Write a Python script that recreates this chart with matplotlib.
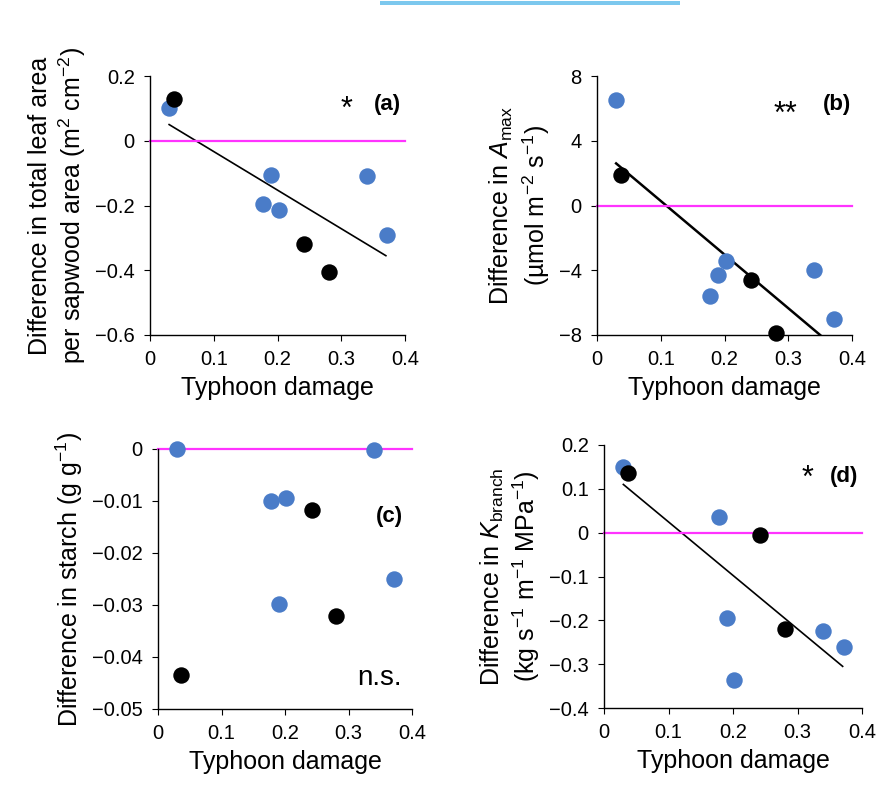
import matplotlib
matplotlib.use("Agg")
import matplotlib.pyplot as plt
from matplotlib.patches import Rectangle

plt.rcParams['font.family'] = ['Liberation Sans', 'DejaVu Sans']
plt.rcParams['mathtext.fontset'] = 'custom'
plt.rcParams['mathtext.rm'] = 'Liberation Sans'
plt.rcParams['mathtext.it'] = 'Liberation Sans:italic'
plt.rcParams['mathtext.bf'] = 'Liberation Sans:bold'

BLUE = '#4a7cc8'

# Panel (a)
a_blue_x = [0.03, 0.19, 0.178, 0.202, 0.34, 0.372]
a_blue_y = [0.10, -0.105, -0.195, -0.215, -0.11, -0.29]
a_blk_x = [0.037, 0.242, 0.28]
a_blk_y = [0.13, -0.32, -0.405]
a_fit_x = [0.03, 0.37]
a_fit_y = [0.05, -0.355]

# Panel (b)
b_blue_x = [0.03, 0.178, 0.19, 0.202, 0.34, 0.372]
b_blue_y = [6.5, -5.6, -4.3, -3.4, -4.0, -7.0]
b_blk_x = [0.037, 0.242, 0.28]
b_blk_y = [1.9, -4.6, -7.9]
b_fit_x = [0.03, 0.35]
b_fit_y = [2.6, -8.0]

# Panel (c)
c_blue_x = [0.03, 0.178, 0.202, 0.19, 0.34, 0.372]
c_blue_y = [0.0, -0.010, -0.0095, -0.0298, -0.0002, -0.025]
c_blk_x = [0.037, 0.242, 0.28]
c_blk_y = [-0.0435, -0.0117, -0.0322]

# Panel (d)
d_blue_x = [0.03, 0.178, 0.19, 0.202, 0.34, 0.372]
d_blue_y = [0.15, 0.035, -0.195, -0.335, -0.225, -0.26]
d_blk_x = [0.037, 0.242, 0.28]
d_blk_y = [0.135, -0.005, -0.22]
d_fit_x = [0.03, 0.37]
d_fit_y = [0.11, -0.305]

xticks = [0, 0.1, 0.2, 0.3, 0.4]
xticklabels = ['0', '0.1', '0.2', '0.3', '0.4']

W, H = 896, 790
fig = plt.figure(figsize=(W/100, H/100), dpi=100)

def mkax(l, r, t, b):
    return fig.add_axes([l/W, 1-b/H, (r-l)/W, (b-t)/H])

def style(ax, yticks, ylabels, ylim, ylabel):
    ax.set_xlim(0, 0.4)
    ax.set_ylim(*ylim)
    ax.set_xticks(xticks)
    ax.set_xticklabels(xticklabels)
    ax.set_yticks(yticks)
    ax.set_yticklabels(ylabels)
    for s in ['top', 'right']:
        ax.spines[s].set_visible(False)
    for s in ['left', 'bottom']:
        ax.spines[s].set_linewidth(1.0)
    ax.tick_params(labelsize=14.5, length=4, direction='out', pad=7)
    ax.set_xlabel('Typhoon damage', fontsize=18, labelpad=5)
    ax.set_ylabel(ylabel, fontsize=18, labelpad=5)
    ax.axhline(0, color='#ff33ff', lw=1.6, zorder=2.5, clip_on=False)

def pts(ax, bx, by, kx, ky):
    ax.scatter(bx, by, s=140, color=BLUE, zorder=3, clip_on=False, linewidths=0)
    ax.scatter(kx, ky, s=140, color='black', zorder=3, clip_on=False, linewidths=0)

ax = mkax(150, 405, 76, 335)
style(ax, [0.2, 0, -0.2, -0.4, -0.6], ['0.2', '0', '\u22120.2', '\u22120.4', '\u22120.6'], (-0.6, 0.2),
      'Difference in total leaf area\nper sapwood area (m$^{2}$ cm$^{-2}$)')
ax.plot(a_fit_x, a_fit_y, color='black', lw=1.2, zorder=2)
pts(ax, a_blue_x, a_blue_y, a_blk_x, a_blk_y)
ax.text(0.77, 0.87, '*', transform=ax.transAxes, fontsize=22, ha='center', va='center')
ax.text(0.93, 0.89, '(a)', transform=ax.transAxes, fontsize=16, fontweight='bold', ha='center', va='center')

ax = mkax(597, 852, 76, 335)
style(ax, [8, 4, 0, -4, -8], ['8', '4', '0', '\u22124', '\u22128'], (-8, 8),
      'Difference in $\\it{A}$$_{\\rm max}$\n(\u00b5mol m$^{-2}$ s$^{-1}$)')
ax.plot(b_fit_x, b_fit_y, color='black', lw=1.8, zorder=2)
pts(ax, b_blue_x, b_blue_y, b_blk_x, b_blk_y)
ax.text(0.74, 0.85, '**', transform=ax.transAxes, fontsize=22, ha='center', va='center')
ax.text(0.94, 0.89, '(b)', transform=ax.transAxes, fontsize=16, fontweight='bold', ha='center', va='center')

ax = mkax(158, 412, 449, 709)
style(ax, [0, -0.01, -0.02, -0.03, -0.04, -0.05],
      ['0', '\u22120.01', '\u22120.02', '\u22120.03', '\u22120.04', '\u22120.05'], (-0.05, 0),
      'Difference in starch (g g$^{-1}$)')
pts(ax, c_blue_x, c_blue_y, c_blk_x, c_blk_y)
ax.text(0.91, 0.74, '(c)', transform=ax.transAxes, fontsize=16, fontweight='bold', ha='center', va='center')
ax.text(0.96, 0.12, 'n.s.', transform=ax.transAxes, fontsize=20, ha='right', va='center')

ax = mkax(604, 862, 445, 708)
style(ax, [0.2, 0.1, 0, -0.1, -0.2, -0.3, -0.4],
      ['0.2', '0.1', '0', '\u22120.1', '\u22120.2', '\u22120.3', '\u22120.4'], (-0.4, 0.2),
      'Difference in $\\it{K}$$_{\\rm branch}$\n(kg s$^{-1}$ m$^{-1}$ MPa$^{-1}$)')
ax.plot(d_fit_x, d_fit_y, color='black', lw=1.2, zorder=2)
pts(ax, d_blue_x, d_blue_y, d_blk_x, d_blk_y)
ax.text(0.79, 0.87, '*', transform=ax.transAxes, fontsize=22, ha='center', va='center')
ax.text(0.93, 0.88, '(d)', transform=ax.transAxes, fontsize=16, fontweight='bold', ha='center', va='center')

fig.add_artist(Rectangle((380/W, 1-5/H), 300/W, 4/H, transform=fig.transFigure,
                         color='#7cc8ee', lw=0))

fig.savefig('out.png', dpi=100)
